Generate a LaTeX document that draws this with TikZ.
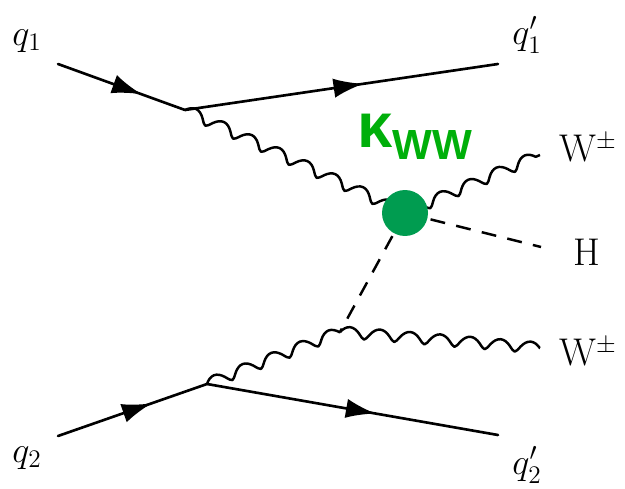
\documentclass[tikz,border=0pt]{standalone}
\usepackage{amsmath,amssymb}
\usepackage{fontspec}
\setsansfont{Liberation Sans}
\usetikzlibrary{arrows.meta,decorations.pathmorphing,decorations.markings}
\definecolor{blobgreen}{RGB}{0,156,80}
\definecolor{kappagreen}{RGB}{0,175,10}

\begin{document}
\begin{tikzpicture}[
  x=0.02cm, y=-0.02cm,
  font=\fontsize{22}{22}\selectfont,
  every node/.style={inner sep=0pt},
  fermion/.style={line width=1.5pt, line cap=round, postaction={decorate}, decoration={markings, mark=at position #1 with {\arrow{Latex[length=17pt,width=11pt]}}}},
  boson/.style={line width=1.4pt, line join=round, decorate, decoration={coil, aspect=0.35, amplitude=3.2pt, segment length=#1}},
  boson/.default=17.5pt,
  higgs/.style={line width=1.4pt, dash pattern=on 8.5pt off 6.5pt},
  vertex/.style={coordinate}
]
  \useasboundingbox (0,0) rectangle (625,489);

  % Vertices
  \node[vertex] (top) at (185,110) {};
  \node[vertex] (bot) at (207,384) {};
  \node[vertex] (mid) at (340,332) {};
  \node[vertex] (blob) at (405,213) {};

  % Free ends
  \node (qa) at (27,41) {$q_1$};
  \node (qb) at (527,35) {$q_1'$};
  \node (wa) at (588,148) {W$^{\pm}$};
  \node (hh) at (587,252) {H};
  \node (wb) at (588,352) {W$^{\pm}$};
  \node (qc) at (27,458) {$q_2$};
  \node (qd) at (527,465) {$q_2'$};
  \coordinate (qain) at (58,64);
  \coordinate (qbout) at (498,64);
  \coordinate (waout) at (540,155);
  \coordinate (hout) at (541,247);
  \coordinate (wbout) at (540,348);
  \coordinate (qcin) at (58,436);
  \coordinate (qdout) at (498,435);

  % Quark lines
  \draw[fermion=0.66] (qain) -- (top);
  \draw[fermion=0.57] (top) -- (qbout);
  \draw[fermion=0.63] (qcin) -- (bot);
  \draw[fermion=0.58] (bot) -- (qdout);

  % Bosons
  \draw[boson] (top) -- (blob);
  \draw[boson] (blob) -- (waout);
  \draw[boson] (bot) -- (mid);
  \draw[boson=17.2pt] (mid) -- (wbout);
  \draw[higgs] (blob) -- (hout);
  \draw[higgs] (blob) -- (mid);

  % Coupling blob on top
  \node[circle, fill=blobgreen, minimum size=0.92cm] (vtx) at (blob) {};
  \node[font=\sffamily\bfseries\fontsize{36}{36}\selectfont, text=kappagreen] (kww) at (415,137) {κ\raisebox{-0.35ex}{\fontsize{24}{24}\selectfont WW}};
\end{tikzpicture}
\end{document}
